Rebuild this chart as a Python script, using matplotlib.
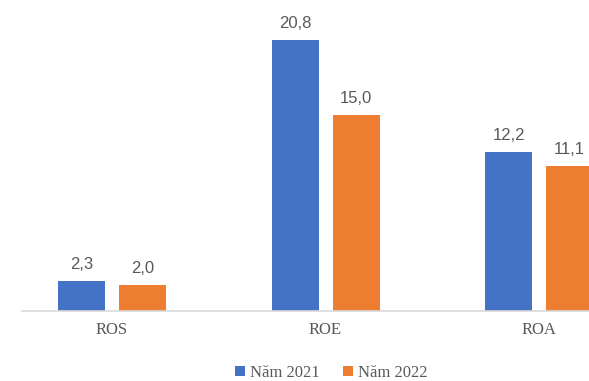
import matplotlib.pyplot as plt
import numpy as np

# Chỉ số sinh lời (%) theo năm
categories = ["ROS", "ROE", "ROA"]
nam_2021 = [2.3, 20.8, 12.2]
nam_2022 = [2.0, 15.0, 11.1]
series_labels = ["Năm 2021", "Năm 2022"]

blue = "#4472C4"
orange = "#ED7D31"
text_gray = "#595959"
serif = ["Liberation Serif", "DejaVu Serif"]
sans = ["Liberation Sans", "DejaVu Sans"]

W, H = 589, 381
fig = plt.figure(figsize=(W / 100, H / 100), dpi=100)

# vùng vẽ theo pixel: trục hoành ở y=311, bắt đầu từ x=22, tràn ra mép phải
left_px, base_px, top_px = 22, 311, 11
ax = fig.add_axes([left_px / W, (H - base_px) / H, 1 - left_px / W, (base_px - top_px) / H])

band = 213.5
c0 = 112
ax.set_xlim((left_px - c0) / band, (W - c0) / band)
ax.set_ylim(0, 23)

x = np.arange(len(categories))
w = 47 / band
off = 30.5 / band

b1 = ax.bar(x - off, nam_2021, w, color=blue, label=series_labels[0])
b2 = ax.bar(x + off, nam_2022, w, color=orange, label=series_labels[1])

def fmt(v):
    return f"{v:.1f}".replace(".", ",")

for bars, vals in [(b1, nam_2021), (b2, nam_2022)]:
    for rect, v in zip(bars, vals):
        ax.annotate(fmt(v), (rect.get_x() + rect.get_width() / 2, v),
                    xytext=(0, 6.5), textcoords="offset points",
                    ha="center", va="bottom", fontsize=12,
                    color=text_gray, family=sans)

for s in ["top", "right", "left"]:
    ax.spines[s].set_visible(False)
ax.spines["bottom"].set_color("#D9D9D9")
ax.spines["bottom"].set_linewidth(1.2)
ax.set_yticks([])
ax.set_xticks(x)
ax.set_xticklabels(categories, family=serif, fontsize=12, color=text_gray)
ax.tick_params(axis="x", length=0, pad=8)

fig.legend(handles=[b1, b2], labels=series_labels, loc="center",
           bbox_to_anchor=(331 / W, (H - 373) / H), ncol=2, frameon=False,
           prop={"family": serif, "size": 12}, labelcolor=text_gray,
           handlelength=0.6, handleheight=0.6, handletextpad=0.3,
           columnspacing=1.4)

fig.savefig("out.png", dpi=100)
